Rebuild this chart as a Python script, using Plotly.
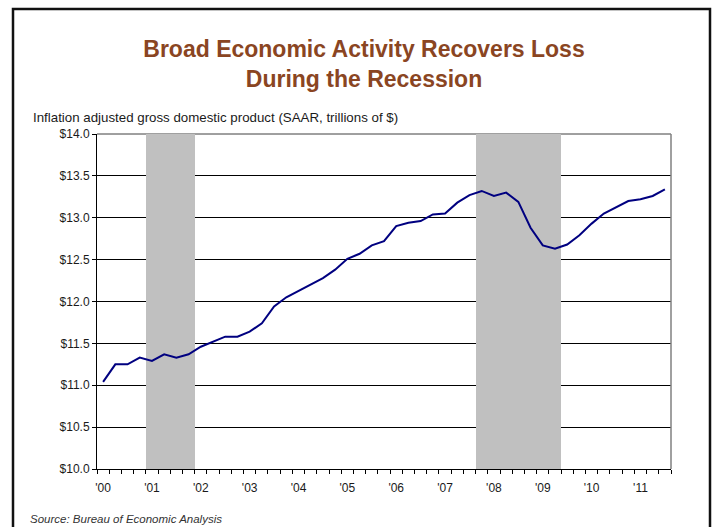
import plotly.graph_objects as go

# Real GDP, quarterly, SAAR, trillions of chained dollars (2000Q1 - 2011Q3)
quarters = [f"{y}Q{q}" for y in range(2000, 2012) for q in range(1, 5)][:47]
gdp = [11.04, 11.25, 11.25, 11.33,
       11.29, 11.37, 11.33, 11.37,
       11.46, 11.52, 11.58, 11.58,
       11.64, 11.74, 11.94, 12.05,
       12.13, 12.21, 12.28, 12.38,
       12.51, 12.57, 12.67, 12.72,
       12.90, 12.94, 12.96, 13.04,
       13.05, 13.18, 13.27, 13.32,
       13.26, 13.30, 13.19, 12.88,
       12.67, 12.63, 12.68, 12.79,
       12.93, 13.05, 13.13, 13.20,
       13.22, 13.26, 13.34]

# NBER recessions (first and last quarter shaded)
recessions = [("2001Q1", "2001Q4"), ("2007Q4", "2009Q2")]

year_labels = ["'00", "'01", "'02", "'03", "'04", "'05",
               "'06", "'07", "'08", "'09", "'10", "'11"]

y_min, y_max, y_step = 10.0, 14.0, 0.5

idx = list(range(len(quarters)))
in_recession = [any(quarters.index(a) <= i <= quarters.index(b) for a, b in recessions)
                for i in idx]
shade = [y_max if r else None for r in in_recession]

# plot-area geometry in pixels, used to place paper-anchored decorations
W, H = 716, 527
L, R, T, B = 97, 671, 134, 469


def px(x):
    return (x - L) / (R - L)


def py(y):
    return (B - y) / (B - T)


fig = go.Figure()
fig.add_trace(go.Bar(x=idx, y=shade, width=1.0, marker=dict(color="#C0C0C0", line=dict(width=0)),
                     hoverinfo="skip", showlegend=False))
fig.add_trace(go.Scatter(x=idx, y=gdp, mode="lines", line=dict(color="#000080", width=2),
                         showlegend=False))

font = "Liberation Sans, Arial, sans-serif"

fig.update_layout(
    width=W, height=H,
    margin=dict(l=L, r=W - R, t=T, b=H - B),
    paper_bgcolor="white", plot_bgcolor="white",
    bargap=0,
    font=dict(family=font, size=12, color="#1a1a1a"),
    title=dict(text="<b>Broad Economic Activity Recovers Loss<br>During the Recession</b>",
               x=364 / W, xanchor="center", y=1 - 57 / H, yanchor="middle",
               font=dict(family=font, size=23, color="#8A4522")),
    xaxis=dict(range=[-0.5, len(quarters) - 0.5],
               tickmode="array", tickvals=[4 * k for k in range(len(year_labels))],
               ticktext=year_labels, ticks="", ticklabelstandoff=8,
               showgrid=False, zeroline=False,
               showline=True, linecolor="black", linewidth=1,
               minor=dict(tickmode="linear", tick0=-0.5, dtick=1, ticks="outside",
                          ticklen=4, tickcolor="black", tickwidth=1, showgrid=False),
               tickfont=dict(size=12, color="#1a1a1a")),
    yaxis=dict(range=[y_min, y_max], tickmode="linear", tick0=y_min, dtick=y_step,
               tickprefix="$", tickformat=".1f",
               ticks="outside", ticklen=4, tickcolor="black",
               showgrid=True, gridcolor="black", gridwidth=1, zeroline=False,
               showline=True, linecolor="black", linewidth=1,
               tickfont=dict(size=12, color="#1a1a1a")),
    shapes=[
        # lighter rule at $12.0
        dict(type="line", xref="paper", yref="y", x0=0, x1=1, y0=12.0, y1=12.0,
             line=dict(color="#808080", width=1), layer="between"),
        # right edge of the plot area
        dict(type="line", xref="paper", yref="paper", x0=1, x1=1, y0=0, y1=1,
             line=dict(color="#808080", width=1.5), layer="above"),
        # top edge of the plot area
        dict(type="line", xref="paper", yref="paper", x0=0, x1=1, y0=1, y1=1,
             line=dict(color="#404040", width=1), layer="between"),
        # outer frame of the slide
        dict(type="rect", xref="paper", yref="paper",
             x0=px(13), x1=px(710), y0=py(560), y1=py(9),
             line=dict(color="#111111", width=2.5), fillcolor="rgba(0,0,0,0)", layer="above"),
    ],
    annotations=[
        dict(text="Inflation adjusted gross domestic product (SAAR, trillions of $)",
             xref="paper", yref="paper", x=px(31), y=py(118), xanchor="left", yanchor="middle",
             showarrow=False, font=dict(family=font, size=13.3, color="#1a1a1a")),
        dict(text="<i>Source: Bureau of Economic Analysis</i>",
             xref="paper", yref="paper", x=px(28), y=py(519), xanchor="left", yanchor="middle",
             showarrow=False, font=dict(family=font, size=11.5, color="#333333")),
    ],
)

fig.write_html("out.html")
